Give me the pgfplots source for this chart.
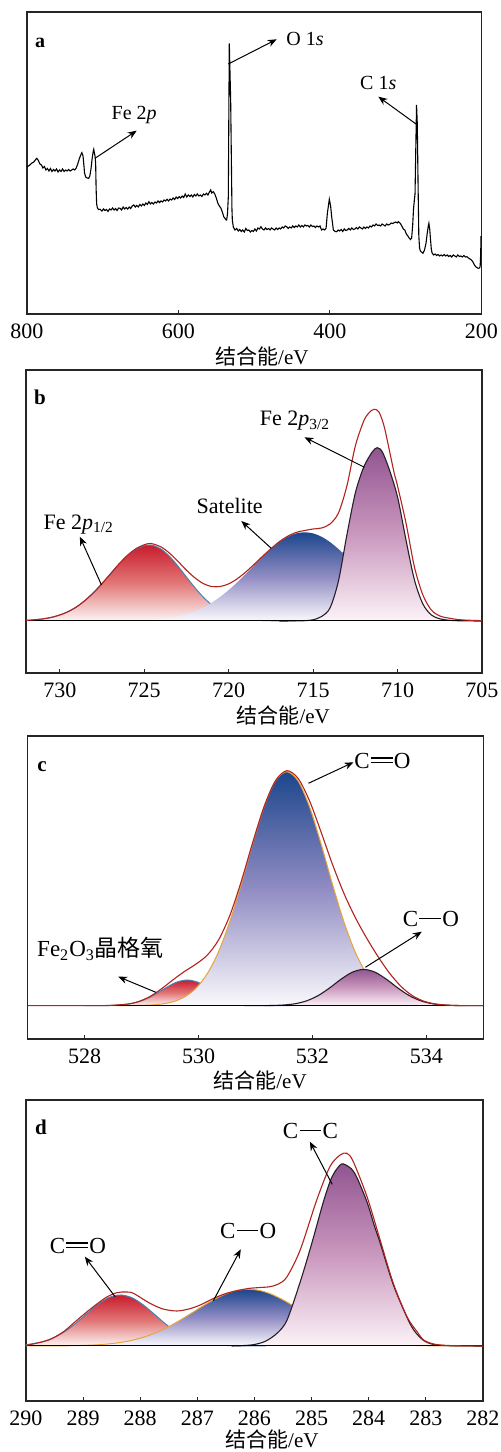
\documentclass[border=0pt]{standalone}
\usepackage{fontspec}
\setmainfont{Liberation Serif}
\newfontfamily\cjk{Noto Sans CJK SC}
\usepackage{pgfplots}
\usepackage{pgfplotstable}
\pgfplotsset{compat=1.18}
\usetikzlibrary{arrows.meta}

\definecolor{envred}{RGB}{178,34,30}
\definecolor{pkred}{RGB}{200,28,45}
\definecolor{pkredm}{RGB}{226,118,118}
\definecolor{pkredb}{RGB}{253,244,244}
\definecolor{pkblue}{RGB}{28,70,140}
\definecolor{pkbluem}{RGB}{145,140,195}
\definecolor{pkblueb}{RGB}{250,249,253}
\definecolor{pkpur}{RGB}{145,85,145}
\definecolor{pkpurm}{RGB}{202,152,190}
\definecolor{pkpurb}{RGB}{252,243,247}
\definecolor{lnblue}{RGB}{70,130,180}
\definecolor{lnora}{RGB}{230,165,60}
\definecolor{lnpur}{RGB}{40,30,40}

\newcommand{\sbond}{\kern0.6pt\rule[0.32em]{0.95em}{0.05em}\kern0.6pt}
\newcommand{\dbond}{\kern0.6pt\rlap{\rule[0.23em]{0.95em}{0.05em}}\rule[0.42em]{0.95em}{0.05em}\kern0.6pt}
\newcommand{\xl}{{\cjk 结合能}/eV}

\pgfplotsset{
  panel/.style={
    scale only axis, clip=false,
    axis line style={line width=0.6pt, black!85},
    ytick=\empty, tick pos=left, tick align=inside,
    major tick length=2.2pt,
    tick style={line width=0.6pt, black!85},
    tick label style={font=\fontsize{11}{12}\selectfont},
    xticklabel style={yshift=-1.5pt},
    /pgf/number format/assume math mode=true,
  },
  comp/.style={draw=none, smooth},
  % middle color has to come after top and bottom color
  fred/.style={comp, top color=pkred, bottom color=pkredb, middle color=pkredm},
  fblue/.style={comp, top color=pkblue, bottom color=pkblueb, middle color=pkbluem},
  fpur/.style={comp, top color=pkpur, bottom color=pkpurb, middle color=pkpurm},
  env/.style={envred, line width=0.55pt, smooth},
}
\tikzset{ann/.style={-{Stealth[length=4.5pt,width=3.6pt]}, line width=0.5pt}}

% ---------- a: survey ----------
\pgfplotstableread{
x y
800 147
797 148.5
794 150.7
791 152
789 154
787 155.7
785 153.5
783 150
781 149
779 146
777 147.5
775 144
773 145.5
771 143
769 145.5
767 142.5
765 144.5
763 143
761 145
759 142
757 144
755 142.5
753 145
751 142.5
749 144
747 143
745 144.5
743 143
741 144
739 145
737 144
735 146
733 150
731 155
729 159
727.5 161.3
726 158
725 150
724 141
722.5 137
720.5 136
718.5 135.7
717 138
715.5 145
714 155
712.7 162
711.8 164.7
711 161
710 157.3
709.3 150
708.7 125
708 110
707 106
705.5 104.5
703.5 104.7
701 103
699 105
697 103.5
695 104.5
693 102.5
691 105
689 104
687 106
685 104
683 105.5
681 103.5
679 106
677 105.7
675 104
673 107
671 105
669 106.5
667 105
665 107
663 105.5
661 108
659 109
657 107
655 108.5
653 107
651 109.5
649 108
647 110
645 108.5
643 111
641 109.5
639 112.3
637 110
635 111.5
633 110
631 112
629 111
627 113
625 111.5
623 113
621 112
619 114
617 113
615 114.7
613 113
611 115
609 114
607 116
605 114.5
603 117
601 115.5
599 117.3
597 116
595 118
593 116.5
591 120
589 117
587 119
585 117.5
583 119
581 117
579 119.5
577 118
575 120
573 118
571 119
569 117.5
567 120
565 119
563 120.7
561 119
559 122
557.4 124
556 121
554 122.3
552 120
550 116
548 111
546 108
544 106
542 102
540 97
538.5 95.7
537 94
536.3 94
535.2 100
534.1 117
533.5 190
532.8 270.7
532 245
531 214
530 150
529.3 105
528.8 94
527.5 87
525.3 84
523 85.5
521 83
519 84.5
517 82.5
515 84
513 82
511 85.5
509 83.5
507 84
505 82
503 83.5
501 82.5
499 85
497 83
495 86
493 85
491 87.3
489 85
487 84
485 86
483 84.5
481 85.5
479 84
477 86
475 85
473 84
471 86
469 84.5
467 86
465 85
463 87
461 86
459 88
457 87.3
455 85.5
453 87
451 86
449 88
447 86.5
445 88
443 87
441 89
439 87
437 88.5
435 87
433 89
431 88
429 88.5
427 87
425 89
423 87.5
421 88
419 86.5
417 88
415 87
413 88
411 84
409 85
407 84
405 85.7
403.3 100.7
400.7 114.7
399 108
397.6 97.3
396 88
395.4 84
393 82.5
391 82.3
389 84
387 83
385 84.5
383 82.5
381 85
379 83.5
377 84
375 85.5
373 84
371 86
369 84.5
367 85
365 86.5
363 85
361 87
359 86
357 85
355 87
353 85.5
351 87
349 86
347 88
345 87
343 89
341 88
339 90
337 88.5
335 89
333 88
331 90
329 89
327 88
325 90
323 89
321 89.5
319 91
317 90.5
315 91.3
313 92
311 91
309.6 92.3
307 90.7
305 88
303 85
301 84
299 80
297 78
295 75.7
293.5 74.5
292 75.7
290.5 90
289.5 105
288.5 113
287.5 120
286.5 165
285.5 209
284.5 190
283.5 130
282.5 78
281.5 66
280.5 63
279 62
277 60.7
275 64
273 70.7
271.5 80
270 88
269.2 90.7
268 84
267 74
266 65
265 61
263 59
261 60
259 58.5
257 59.5
255 58
253 59
251 58
249 59.5
247 58
245 59
243 57.5
241 58.5
239 57
237 59
235 58
233 57
231 59
229 57.5
227 58
225 57
223 58.5
221 57
219 57.3
217 56
215 55
213 54
211 52
209 49
207 47
205 46
203.9 45.7
202.5 46
201.5 47.3
200.8 60
200.3 78
}\aSurvey

% ---------- b: Fe 2p ----------
\pgfplotstableread{
x y
732 0.6
731.5 1.16
731 2.09
730.5 3.6
730 5.97
729.5 9.43
729 14.2
728.5 20.6
728 28.4
727.5 37.4
727 47.1
726.5 56.7
726 65.2
725.5 71.7
725 75.4
724.7 76
724.5 75.7
724 71.9
723.5 64.6
723 54.8
722.5 43.9
722 33.3
721.5 23.8
721 16.1
720.5 10.3
720 6.2
719.5 3.5
719 1.9
718.5 0.97
718 0.47
717 0.08
716 0
}\bRed
\pgfplotstableread{
x y
726.5 0.17
726 0.29
725.5 0.5
725 0.81
724.5 1.3
724 2.07
723.5 3.2
723 4.75
722.5 6.9
722 9.85
721.5 13.6
721 18.4
720.5 24.2
720 30.9
719.5 38.6
719 46.9
718.5 55.5
718 64.1
717.5 72.0
717 78.9
716.5 84.2
716 87.6
715.5 88.7
715 87.6
714.5 84.2
714 78.9
713.5 72.0
713 64.1
712.5 55.5
712 46.9
711.5 38.6
711 30.9
710.5 24.2
710 18.4
709.5 13.6
709 9.85
708.5 6.9
708 4.75
707.5 3.2
707 2.07
706.5 1.3
706 0.81
705.5 0.5
705 0.29
}\bSat
\pgfplotstableread{
x y
717 0
716 0.1
715.5 0.3
715 1.2
714.5 4.5
714 13
713.5 40
713 86
712.5 128
712 154
711.5 169
711.2 173.3
710.9 169
710.5 152
710 124
709.5 81
709 41
708.5 17
708 6
707.5 2.2
707 0.8
706.5 0.3
706 0.1
705 0
}\bPur
\pgfplotstableread{
x y
732 0.6
731.5 1.2
731 2.1
730.5 3.6
730 6
729.5 9.4
729 14.2
728.5 20.6
728 28.4
727.5 37.4
727 47.1
726.5 56.9
726 65.5
725.5 72.2
725 76.2
724.6 77.5
724 74.0
723.5 67.8
723 59.6
722.5 50.8
722 43.2
721.5 37.4
721 34.5
720.5 34.5
720 37.1
719.5 42.1
719 48.8
718.5 56.5
718 64.6
717.5 72.2
717 79.3
716.5 84.8
716 88.6
715.5 90.5
715 92
714.5 93
714 97
713.5 108
713 135
712.5 175
712 200
711.7 208
711.4 211.7
711.1 209
710.8 195
710.5 172
710.2 148
710 135
709.5 98
709 54
708.5 26
708 11
707.5 5
707 3
706.5 1.6
706 0.9
705.5 0.6
705 0.35
}\bEnv

% ---------- c: O 1s ----------
\pgfplotstableread{
x y
528 0
528.4 0.16
528.6 0.62
528.8 1.94
529.0 4.9
529.2 10.1
529.4 17.0
529.6 23.2
529.8 25.7
530.0 23.2
530.2 17.0
530.4 10.1
530.6 4.9
530.8 1.94
531.0 0.62
531.2 0.16
531.6 0
}\cRed
\pgfplotstableread{
x y
528.4 0
528.75 0.08
528.95 0.24
529.15 0.65
529.35 1.68
529.55 3.95
529.75 8.6
529.95 17.2
530.15 31.7
530.35 53.8
530.55 84.3
530.75 121.8
530.95 162.1
531.15 198.7
531.35 224.6
531.55 234
531.75 224.6
531.95 198.7
532.15 162.1
532.35 121.8
532.55 84.3
532.75 53.8
532.95 31.7
533.15 17.2
533.35 8.6
533.55 3.95
533.75 1.68
533.95 0.65
534.15 0.24
534.35 0.08
534.7 0
}\cBlue
\pgfplotstableread{
x y
530.8 0
531.1 0.06
531.3 0.22
531.5 0.72
531.7 2.0
531.9 4.9
532.1 10.1
532.3 17.7
532.5 26.4
532.7 33.5
532.9 36.3
533.1 33.5
533.3 26.4
533.5 17.7
533.7 10.1
533.9 4.9
534.1 2.0
534.3 0.72
534.5 0.22
534.7 0.06
535 0
}\cPur
\pgfplotstableread{
x y
527 0
528 0.02
528.4 0.2
528.75 1.6
528.95 4.2
529.15 9.3
529.35 16.9
529.55 25.8
529.75 34.1
529.95 41.4
530.15 50.4
530.35 65.6
530.55 90.3
530.75 124.3
530.95 163
531.15 198.9
531.35 224.9
531.55 235
531.75 227.2
531.95 204.7
532.15 173.9
532.35 141.6
532.55 112.7
532.75 88.5
532.95 67.8
533.15 49.2
533.35 32.8
533.55 19.6
533.75 10.2
533.95 4.65
534.15 1.84
534.35 0.63
534.55 0.17
534.75 0.04
535 0
}\cEnv

% ---------- d: C 1s ----------
\pgfplotstableread{
x y
290 1.4
289.95 1.68
289.75 3.7
289.55 7.5
289.35 13.4
289.15 21.7
288.95 31.6
288.75 41.2
288.55 48.4
288.35 51
288.15 48.4
287.95 41.2
287.75 31.6
287.55 21.7
287.35 13.4
287.15 7.5
286.95 3.7
286.75 1.68
286.55 0.68
286.35 0.25
286.15 0.08
285.8 0
}\dRed
\pgfplotstableread{
x y
290 0.01
289.91 0.02
289.71 0.05
289.51 0.1
289.31 0.2
289.11 0.39
288.91 0.74
288.71 1.34
288.51 2.33
288.31 3.88
288.11 6.18
287.91 9.4
287.71 13.7
287.51 19.1
287.31 25.5
287.11 32.6
286.91 39.8
286.71 46.4
286.51 51.9
286.31 55.5
286.11 56.7
285.91 55.5
285.71 51.9
285.51 46.4
285.31 39.8
285.11 32.6
284.91 25.5
284.71 19.1
284.51 13.7
284.31 9.4
284.11 6.18
283.91 3.88
283.71 2.33
283.51 1.34
283.31 0.74
283.11 0.39
282.91 0.2
282.71 0.1
282.5 0.05
282 0
}\dBlue
\pgfplotstableread{
x y
286.4 0
286.2 0.4
286.0 1.5
285.8 5
285.6 13
285.43 26
285.2 64
285.0 102
284.8 143
284.68 164
284.6 173.6
284.5 181
284.44 182
284.3 177
284.2 167.6
284.03 144
283.9 120
283.8 103
283.57 61.3
283.33 28.6
283.2 15
283.04 5.5
282.9 2
282.75 0.7
282.5 0.2
282 0
}\dPur
\pgfplotstableread{
x y
290 0.5
289.8 3
289.58 6.5
289.35 14
289.17 22.7
289.0 31
288.82 39.3
288.6 48.5
288.41 53.3
288.25 54
288.12 52.7
287.83 42.7
287.6 37
287.36 35
287.15 37
286.95 41
286.7 48
286.49 52.7
286.25 56
286.08 57.7
285.9 58.5
285.73 59.3
285.58 62
285.43 69.3
285.2 96
284.91 146
284.68 179.3
284.5 191
284.38 192.7
284.27 184.3
284.03 149.3
283.8 106
283.57 62.7
283.33 29.3
283.15 14
283.04 6
282.9 2.5
282.75 1
282.5 0.3
282 0
}\dEnv

\begin{document}
\begin{tikzpicture}
\path[use as bounding box] (0,0) rectangle (250pt,726pt);

% ===== a =====
\begin{axis}[panel, at={(13.5pt,569pt)}, anchor=south west,
  width=227.15pt, height=151pt,
  x dir=reverse, xmin=200, xmax=800, ymin=0, ymax=302,
  xtick={800,600,400,200}]
\addplot[black, line width=0.55pt] table {\aSurvey};
\begin{scope}[font=\fontsize{10}{12}\selectfont]
\node[font=\fontsize{10}{12}\selectfont\bfseries, anchor=base] at (axis cs:782.8,266) {a};
\draw[ann] (axis cs:710.2,155.7) -- (axis cs:655.1,183.3);
\node[anchor=base] at (axis cs:658.4,194) {Fe 2\textit{p}};
\draw[ann] (axis cs:534.1,250) -- (axis cs:470.2,274.7);
\node[anchor=base] at (axis cs:432.8,268.7) {O 1\textit{s}};
\draw[ann] (axis cs:286.2,190) -- (axis cs:336,217.3);
\node[anchor=base] at (axis cs:336,224) {C 1\textit{s}};
\end{scope}
\node[font=\fontsize{10.5}{12}\selectfont] at (axis description cs:0.517,-0.142) {\xl};
\end{axis}

% ===== b =====
\begin{axis}[panel, at={(13pt,389.5pt)}, anchor=south west,
  width=228pt, height=151.5pt,
  x dir=reverse, xmin=705, xmax=732, ymin=-52, ymax=251,
  xtick={730,725,720,715,710,705}]
\addplot[fred] table {\bRed} \closedcycle;
\addplot[lnblue, line width=0.5pt, smooth] table {\bRed};
\addplot[fblue] table {\bSat} \closedcycle;
\addplot[fpur] table {\bPur} \closedcycle;
\addplot[lnpur, line width=0.55pt, smooth] table {\bPur};
\addplot[black, line width=0.5pt] coordinates {(732,0) (705,0)};
\addplot[env] table {\bEnv};
\begin{scope}[font=\fontsize{11}{13}\selectfont]
\node[font=\fontsize{10.5}{12}\selectfont\bfseries, anchor=base] at (axis cs:731.17,216.7) {b};
\draw[ann] (axis cs:711.96,153.7) -- (axis cs:715.51,183.7);
\node[anchor=base west, inner sep=0pt] at (axis cs:718.17,195) {Fe 2\textit{p}\textsubscript{3/2}};
\draw[ann] (axis cs:717.48,72.7) -- (axis cs:719.25,100);
\node[anchor=base] at (axis cs:719.94,107) {Satelite};
\draw[ann] (axis cs:727.53,36) -- (axis cs:728.81,84.3);
\node[anchor=base west, inner sep=0pt] at (axis cs:730.98,91.7) {Fe 2\textit{p}\textsubscript{1/2}};
\end{scope}
\node[font=\fontsize{10.5}{12}\selectfont] at (axis description cs:0.564,-0.141) {\xl};
\end{axis}

% ===== c =====
\begin{axis}[panel, at={(13.85pt,206.5pt)}, anchor=south west,
  width=227.8pt, height=151.5pt,
  xmin=527, xmax=535, ymin=-33.3, ymax=269.7,
  xtick={528,530,532,534}]
\addplot[fred] table {\cRed} \closedcycle;
\addplot[lnblue, line width=0.5pt, smooth] table {\cRed};
\addplot[fblue] table {\cBlue} \closedcycle;
\addplot[lnora, line width=0.5pt, smooth] table {\cBlue};
\addplot[fpur] table {\cPur} \closedcycle;
\addplot[lnpur, line width=0.55pt, smooth] table {\cPur};
\addplot[black, line width=0.5pt] coordinates {(527,0) (535,0)};
\addplot[env] table {\cEnv};
\begin{scope}[font=\fontsize{11.5}{13}\selectfont]
\node[font=\fontsize{10.5}{12}\selectfont\bfseries, anchor=base] at (axis cs:527.25,234.4) {c};
\draw[ann] (axis cs:531.93,222.4) -- (axis cs:532.72,243.4);
\node[anchor=base] at (axis cs:533.23,237.4) {C\dbond O};
\draw[ann] (axis cs:532.93,38.4) -- (axis cs:533.92,74);
\node[anchor=base] at (axis cs:534.08,79) {C\sbond O};
\draw[ann] (axis cs:529.25,13.4) -- (axis cs:528.59,29);
\node[anchor=base] at (axis cs:528.28,49) {Fe\textsubscript{2}O\textsubscript{3}{\cjk 晶格氧}};
\end{scope}
\node[font=\fontsize{10.5}{12}\selectfont] at (axis description cs:0.51,-0.138) {\xl};
\end{axis}

% ===== d =====
\begin{axis}[panel, at={(13pt,25.5pt)}, anchor=south west,
  width=228.5pt, height=150.5pt,
  x dir=reverse, xmin=282, xmax=290, ymin=-55, ymax=246,
  xtick={290,289,288,287,286,285,284,283,282}]
\addplot[fred] table {\dRed} \closedcycle;
\addplot[lnblue, line width=0.5pt, smooth] table {\dRed};
\addplot[fblue] table {\dBlue} \closedcycle;
\addplot[lnora, line width=0.5pt, smooth] table {\dBlue};
\addplot[fpur] table {\dPur} \closedcycle;
\addplot[lnpur, line width=0.55pt, smooth] table {\dPur};
\addplot[black, line width=0.5pt] coordinates {(290,0) (282,0)};
\addplot[env] table {\dEnv};
\begin{scope}[font=\fontsize{11.5}{13}\selectfont]
\node[font=\fontsize{10.5}{12}\selectfont\bfseries, anchor=base] at (axis cs:289.74,211.7) {d};
\draw[ann] (axis cs:284.64,161.7) -- (axis cs:285.03,204.3);
\node[anchor=base] at (axis cs:285.02,207.7) {C\sbond C};
\draw[ann] (axis cs:286.72,45.3) -- (axis cs:286.24,96.7);
\node[anchor=base] at (axis cs:286.11,107.7) {C\sbond O};
\draw[ann] (axis cs:288.44,49.3) -- (axis cs:288.97,89.3);
\node[anchor=base] at (axis cs:289.09,92.7) {C\dbond O};
\end{scope}
\node[font=\fontsize{10.5}{12}\selectfont] at (axis description cs:0.538,-0.127) {\xl};
\end{axis}
\end{tikzpicture}
\end{document}
